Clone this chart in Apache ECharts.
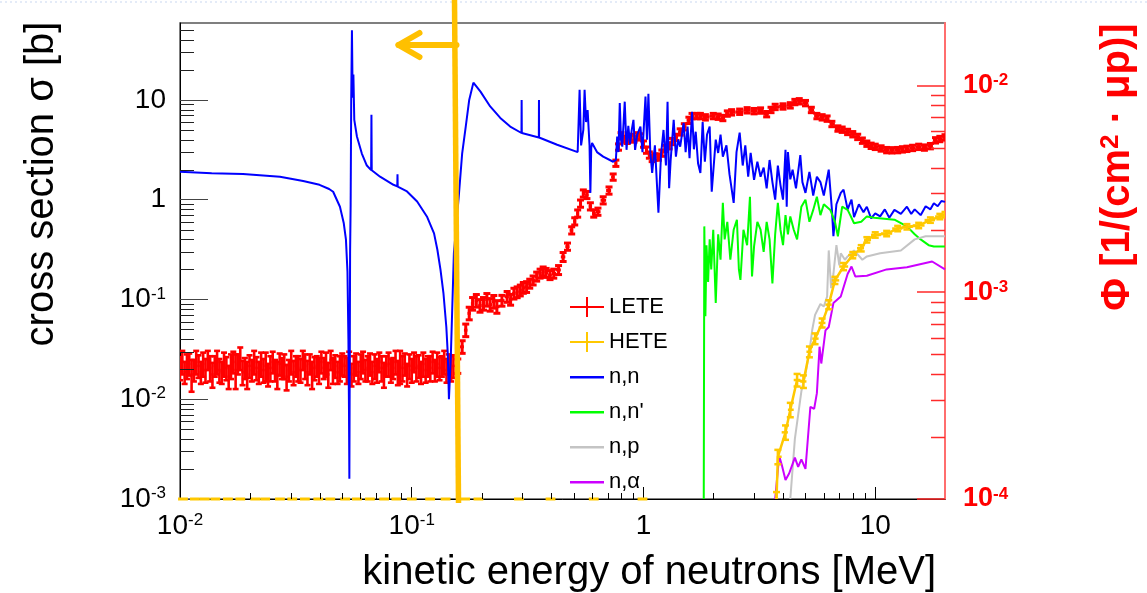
<!DOCTYPE html>
<html><head><meta charset="utf-8">
<script src="https://cdn.jsdelivr.net/npm/echarts@6/dist/echarts.min.js"></script>
<style>html,body{margin:0;padding:0;background:#fff}#c{width:1147px;height:593px}</style>
</head><body><div id="c"></div><script>
// ---------------- axis ranges ----------------
const X_MIN = 0.01, X_MAX = 20;         // kinetic energy [MeV]
const SIG_MIN = 0.001, SIG_MAX = 59;    // cross section [b]
const PHI_MIN = 1e-4, PHI_MAX = 0.02;   // flux
const MARK_E = 0.156;                   // energy of the orange marker line
const FLUX_UNIT = 1e-4;                 // unit of the low-energy LETE arrays

// ---------------- LETE (flux, right axis) ----------------
// low-energy part, energies in MeV; values and errors in units of 1e-4
const leteLowE = [0.010000,0.010233,0.010471,0.010715,0.010965,0.011220,0.011482,0.011749,0.012023,0.012303,
  0.012589,0.012882,0.013183,0.013490,0.013804,0.014125,0.014454,0.014791,0.015136,0.015488,
  0.015849,0.016218,0.016596,0.016982,0.017378,0.017783,0.018197,0.018621,0.019055,0.019498,
  0.019953,0.020417,0.020893,0.021380,0.021878,0.022387,0.022909,0.023442,0.023988,0.024547,
  0.025119,0.025704,0.026303,0.026915,0.027542,0.028184,0.028840,0.029512,0.030200,0.030903,
  0.031623,0.032359,0.033113,0.033884,0.034674,0.035481,0.036308,0.037154,0.038019,0.038905,
  0.039811,0.040738,0.041687,0.042658,0.043652,0.044668,0.045709,0.046774,0.047863,0.048978,
  0.050119,0.051286,0.052481,0.053703,0.054954,0.056234,0.057544,0.058884,0.060256,0.061660,
  0.063096,0.064565,0.066069,0.067608,0.069183,0.070795,0.072444,0.074131,0.075858,0.077625,
  0.079433,0.081283,0.083176,0.085114,0.087096,0.089125,0.091201,0.093325,0.095499,0.097724,
  0.10000,0.10233,0.10471,0.10715,0.10965,0.11220,0.11482,0.11749,0.12023,0.12303,
  0.12589,0.12882,0.13183,0.13490,0.13804,0.14125,0.14454,0.14791,0.15136];
const leteLowV = [4.3,4.6,4.1,4.4,4.5,4.0,4.2,4.6,4.4,4.1,
  4.5,4.2,4.7,4.3,4.0,4.4,4.6,4.2,4.1,4.5,
  4.3,3.9,4.4,4.6,4.2,4.5,4.8,4.1,4.3,4.0,
  4.4,4.2,4.6,4.3,4.1,4.5,4.2,4.4,4.0,4.3,
  4.6,4.2,4.0,4.5,4.3,4.4,3.9,4.2,4.6,4.1,
  4.4,4.3,4.2,4.7,4.4,4.1,4.5,4.0,4.3,4.4,
  4.2,4.6,4.3,4.5,4.0,4.7,4.2,4.4,4.1,4.3,
  4.5,4.4,4.2,4.6,4.0,4.3,4.5,4.1,4.4,4.6,
  4.2,4.3,4.5,4.1,4.4,4.2,4.6,4.3,4.0,4.4,
  4.5,4.2,4.3,4.6,4.1,4.4,4.3,4.5,4.0,4.4,
  4.2,4.6,4.3,4.4,4.1,4.5,4.2,4.4,4.3,4.6,
  4.2,4.5,4.3,4.4,4.6,4.2,4.5,4.3,4.4];
const leteLowErr = [0.55,0.6,0.5,0.6,0.55,0.7,0.5,0.6,0.55,0.5,
  0.6,0.55,0.5,0.6,0.55,0.5,0.6,0.55,0.5,0.6,
  0.55,0.5,0.6,0.55,0.8,0.5,0.6,0.55,0.5,0.6,
  0.55,0.5,0.6,0.55,0.5,0.6,0.55,0.7,0.5,0.6,
  0.55,0.5,0.6,0.55,0.5,0.6,0.55,0.5,0.6,0.55,
  0.5,0.6,0.55,0.5,0.6,0.55,0.5,0.6,0.55,0.5,
  0.6,0.55,0.5,0.6,0.55,0.5,0.6,0.55,0.5,0.6,
  0.55,0.5,0.6,0.55,0.5,0.6,0.55,0.5,0.6,0.55,
  0.5,0.6,0.55,0.5,0.6,0.55,0.5,0.6,0.55,0.5,
  0.6,0.55,0.5,0.6,0.55,0.8,0.6,0.55,0.5,0.6,
  0.55,0.5,0.6,0.55,0.5,0.6,0.55,0.5,0.6,0.55,
  0.5,0.6,0.55,0.5,0.6,0.55,0.5,0.6,0.55];
// [E, flux, relative error]
const leteHigh = [[0.158,4.4e-4,0.08],[0.165,5.44e-4,0.07],[0.171,6.55e-4,0.07],[0.177,7.9e-4,0.07],[0.183,8.8e-4,0.07],
  [0.190,9.1e-4,0.07],[0.197,8.6e-4,0.07],[0.204,8.8e-4,0.07],[0.211,9.2e-4,0.07],[0.218,8.7e-4,0.07],
  [0.226,9.0e-4,0.07],[0.233,8.5e-4,0.07],[0.245,9.1e-4,0.06],[0.258,9.5e-4,0.06],[0.267,9.2e-4,0.06],
  [0.276,9.85e-4,0.06],[0.285,1.0e-3,0.06],[0.294,1.02e-3,0.06],[0.303,1.05e-3,0.06],[0.313,1.06e-3,0.06],
  [0.323,1.10e-3,0.05],[0.334,1.14e-3,0.05],[0.346,1.19e-3,0.05],[0.358,1.23e-3,0.05],[0.369,1.26e-3,0.05],
  [0.380,1.24e-3,0.05],[0.395,1.21e-3,0.05],[0.410,1.23e-3,0.05],[0.430,1.28e-3,0.05],[0.450,1.48e-3,0.05],
  [0.470,1.66e-3,0.04],[0.490,1.99e-3,0.04],[0.505,2.2e-3,0.04],[0.520,2.4e-3,0.04],[0.535,2.68e-3,0.04],
  [0.550,3.0e-3,0.04],[0.570,2.95e-3,0.04],[0.590,2.6e-3,0.04],[0.610,2.4e-3,0.04],[0.636,2.45e-3,0.04],
  [0.670,2.78e-3,0.04],[0.710,3.1e-3,0.04],[0.740,3.6e-3,0.035],[0.760,4.2e-3,0.035],[0.780,5.03e-3,0.035],
  [0.800,5.7e-3,0.035],[0.825,5.5e-3,0.035],[0.850,5.42e-3,0.035],[0.880,5.6e-3,0.035],[0.910,5.5e-3,0.035],
  [0.940,5.7e-3,0.035],[0.970,5.63e-3,0.035],[1.000,5.2e-3,0.035],[1.030,4.86e-3,0.035],[1.060,4.6e-3,0.035],
  [1.090,4.43e-3,0.035],[1.120,4.5e-3,0.035],[1.160,4.5e-3,0.035],[1.200,4.7e-3,0.035],[1.240,4.95e-3,0.035],
  [1.290,5.1e-3,0.035],[1.330,5.35e-3,0.035],[1.380,5.6e-3,0.035],[1.440,5.95e-3,0.035],[1.500,6.3e-3,0.035],
  [1.570,6.77e-3,0.035],[1.620,7.1e-3,0.03],[1.700,7.1e-3,0.03],[1.760,7.1e-3,0.03],[1.850,7.0e-3,0.03],
  [2.000,7.1e-3,0.03],[2.100,7.05e-3,0.03],[2.200,6.95e-3,0.03],[2.300,7.3e-3,0.03],[2.400,7.4e-3,0.03],
  [2.600,7.45e-3,0.03],[2.800,7.57e-3,0.03],[3.000,7.5e-3,0.03],[3.200,7.55e-3,0.03],[3.400,7.25e-3,0.03],
  [3.550,7.6e-3,0.03],[3.700,7.86e-3,0.03],[4.000,7.9e-3,0.03],[4.300,8.0e-3,0.03],[4.500,8.3e-3,0.03],
  [4.700,8.37e-3,0.03],[5.000,8.2e-3,0.03],[5.300,7.6e-3,0.03],[5.600,7.1e-3,0.03],[5.900,7.0e-3,0.03],
  [6.200,6.9e-3,0.03],[6.500,6.5e-3,0.03],[6.900,6.18e-3,0.03],[7.200,6.1e-3,0.03],[7.600,5.95e-3,0.03],
  [8.000,5.8e-3,0.03],[8.400,5.63e-3,0.03],[8.800,5.4e-3,0.03],[9.200,5.22e-3,0.03],[9.600,5.1e-3,0.03],
  [10.0,5.04e-3,0.03],[10.6,4.95e-3,0.03],[11.2,4.86e-3,0.03],[11.8,4.85e-3,0.03],[12.5,4.86e-3,0.03],
  [13.1,4.9e-3,0.03],[13.7,4.93e-3,0.03],[14.5,4.98e-3,0.03],[15.4,5.04e-3,0.03],[16.3,5.0e-3,0.03],
  [17.3,5.08e-3,0.03],[18.2,5.42e-3,0.03],[19.0,5.5e-3,0.03],[20.0,5.6e-3,0.03]];

// ---------------- HETE (flux, right axis) ----------------
const hete = [[3.75,1.0e-4,0.08],[3.80,1.6e-4,0.08],[4.10,2.1e-4,0.08],[4.30,2.7e-4,0.08],[4.60,3.76e-4,0.07],
  [4.90,3.7e-4,0.07],[5.20,5.15e-4,0.06],[5.50,5.96e-4,0.06],[5.90,7.1e-4,0.05],[6.30,8.7e-4,0.05],
  [6.70,1.14e-3,0.04],[7.30,1.33e-3,0.04],[8.00,1.51e-3,0.035],[8.70,1.63e-3,0.035],[9.20,1.79e-3,0.03],
  [10.0,1.89e-3,0.03],[11.2,1.92e-3,0.03],[12.5,2.03e-3,0.03],[13.7,2.07e-3,0.03],[15.4,2.10e-3,0.03],
  [17.3,2.23e-3,0.03],[19.0,2.32e-3,0.03],[20.0,2.37e-3,0.03]];
// HETE bins that sit on the bottom of the flux axis (empty bins)
const heteFloorE = [0.0103,0.0116,0.0128,0.0142,0.0161,0.0182,0.0211,0.0233,0.0270,0.0305,0.0346,0.0395,
  0.0445,0.0516,0.0580,0.0660,0.0760,0.0858,0.1000,0.1200,0.1400,0.1700,0.1940,0.2900,0.3970,0.6100,0.9900];

// ---------------- cross sections (left axis) [E MeV, sigma b] ----------------
const nnData = [[0.0100,1.91],[0.0137,1.84],[0.0187,1.81],[0.0270,1.70],[0.0340,1.54],[0.0400,1.41],[0.0440,1.28],
  [0.0458,1.20],[0.0490,0.85],[0.0509,0.58],[0.0520,0.40],[0.0528,0.19],[0.0533,0.04],[0.0536,0.008],[0.0538,0.0016],
  [0.0540,0.02],[0.0542,0.3],[0.0545,0.9],[0.0548,10],[0.0552,50],[0.0556,10.5],[0.0560,18],[0.0565,6.3],[0.0580,4.3],
  [0.0609,2.9],[0.0640,2.2],[0.0668,1.98],[0.0670,7.1],[0.0672,1.97],[0.0730,1.70],[0.0834,1.41],[0.0866,1.36],
  [0.0868,1.8],[0.0870,1.35],[0.0954,1.21],[0.1055,0.96],[0.1166,0.67],[0.1248,0.46],[0.1290,0.315],[0.1330,0.20],
  [0.1370,0.116],[0.1410,0.053],[0.1430,0.029],[0.1447,0.0100],[0.1476,0.029],[0.1520,0.29],[0.1600,1.17],[0.1650,2.9],
  [0.1710,5.4],[0.1770,10],[0.1845,14.9],[0.1980,12.1],[0.2180,8.6],[0.2410,6.6],[0.2660,5.4],[0.2975,4.66],[0.2980,10],
  [0.2985,4.65],[0.3535,4.2],[0.3540,10],[0.3545,4.2],[0.4240,3.55],[0.5200,3.0],[0.5280,3.0],[0.5300,12.6],[0.5380,3.5],
  [0.5500,5.0],[0.5570,12.6],[0.5650,6],[0.5740,7.9],[0.5850,3.5],[0.5900,1.17],[0.5950,3.3],[0.6000,3.7],[0.6300,3.0],
  [0.6700,2.7],[0.7400,2.4],[0.7600,2.5],[0.7700,4.3],[0.7800,3.0],[0.7900,9.3],[0.8000,4.0],[0.8100,3.4],[0.8300,9.6],
  [0.8450,3.16],[0.8600,5.5],[0.8750,3.6],[0.8900,5.0],[0.9050,6.3],[0.9200,3.16],[0.9400,4.5],[0.9700,5.4],[0.9900,3.0],
  [1.0200,10.8],[1.0350,4.0],[1.0500,11.5],[1.0700,3.0],[1.0900,1.85],[1.1200,3.5],[1.1600,0.74],[1.1900,2.8],
  [1.2200,5.0],[1.2500,2.2],[1.2700,9.6],[1.2900,1.3],[1.3100,2.5],[1.3500,6.3],[1.3800,2.7],[1.4100,4.0],[1.4400,3.4],
  [1.4900,5.9],[1.5200,3.0],[1.5500,5.4],[1.5800,2.6],[1.6200,7.6],[1.6500,3.2],[1.6800,4.8],[1.7200,2.3],[1.7600,1.85],
  [1.8000,6.0],[1.8400,2.4],[1.8800,4.5],[1.9300,5.4],[1.9700,1.2],[2.0500,4.0],[2.1000,2.94],[2.1500,4.5],[2.2000,2.7],
  [2.2800,3.5],[2.3500,1.8],[2.4500,0.93],[2.5200,3.0],[2.6000,4.7],[2.6800,2.2],[2.7500,3.5],[2.8300,1.7],[2.9000,2.94],
  [3.0000,1.58],[3.1000,2.4],[3.2000,1.7],[3.3000,2.1],[3.4000,1.3],[3.5000,2.5],[3.6000,1.5],[3.7000,1.0],[3.8000,2.2],
  [3.9000,1.4],[4.0000,1.0],[4.1000,3.16],[4.1500,0.85],[4.2000,3.0],[4.3000,1.6],[4.4000,2.0],[4.5500,1.3],[4.7500,2.8],
  [4.8500,1.5],[5.0000,1.17],[5.2000,1.9],[5.4000,1.1],[5.6000,1.7],[5.8000,1.5],[6.0000,1.1],[6.3000,2.0],[6.5000,0.8],
  [6.6000,0.43],[6.8000,0.9],[7.1000,1.17],[7.3000,1.26],[7.6000,0.8],[7.9000,1.0],[8.1000,0.67],[8.5000,0.9],[8.9000,0.75],
  [9.2000,0.85],[9.6000,0.65],[10.000,0.73],[10.500,0.68],[11.000,0.8],[11.500,0.66],[12.100,0.79],[12.900,0.72],
  [13.700,0.85],[14.300,0.72],[14.800,0.80],[15.700,0.70],[16.500,0.86],[17.300,0.80],[17.900,0.92],[18.600,0.86],
  [19.300,0.97],[20.000,0.95]];
const nnpData = [[1.82,0.001],[1.83,0.54],[1.85,0.068],[1.87,0.35],[1.90,0.15],[1.93,0.4],[1.96,0.2],[2.00,0.5],[2.05,0.092],
  [2.10,0.45],[2.15,0.25],[2.20,0.93],[2.24,0.4],[2.30,0.6],[2.37,0.25],[2.45,0.5],[2.53,0.63],[2.58,0.2],[2.62,0.157],
  [2.70,0.5],[2.80,0.35],[2.88,1.07],[2.94,0.17],[3.00,0.34],[3.10,0.6],[3.20,0.5],[3.30,0.3],[3.40,0.6],[3.50,0.4],
  [3.60,0.145],[3.70,0.45],[3.80,0.93],[3.90,0.5],[4.00,0.35],[4.10,0.7],[4.20,0.45],[4.30,0.68],[4.45,0.5],[4.60,0.4],
  [4.80,0.85],[5.00,1.0],[5.20,0.6],[5.40,0.79],[5.60,1.07],[5.80,0.7],[6.00,0.9],[6.40,0.79],[6.70,0.6],[6.90,0.43],
  [7.20,0.85],[7.60,0.79],[7.80,0.7],[8.10,0.58],[8.70,0.6],[9.20,0.68],[9.90,0.66],[12.1,0.63],[13.7,0.54],[14.8,0.45],
  [15.7,0.4],[17.0,0.35],[17.9,0.34],[20.0,0.34]];
const npData = [[4.30,0.001],[4.50,0.004],[4.80,0.012],[5.00,0.018],[5.20,0.03],[5.35,0.05],[5.50,0.07],[5.80,0.09],
  [6.00,0.085],[6.20,0.107],[6.30,0.31],[6.45,0.13],[6.60,0.18],[6.80,0.35],[7.00,0.22],[7.10,0.29],[7.40,0.25],
  [7.60,0.27],[8.10,0.31],[8.80,0.25],[9.20,0.27],[10.5,0.29],[12.9,0.31],[14.8,0.4],[16.5,0.43],[20.0,0.43]];
const naData = [[3.70,0.001],[3.85,0.0027],[3.95,0.0022],[4.10,0.00155],[4.25,0.0018],[4.50,0.0026],[4.65,0.0021],
  [4.80,0.0025],[5.00,0.0020],[5.10,0.0020],[5.25,0.0084],[5.45,0.0080],[5.60,0.0115],[5.75,0.0336],[5.85,0.0228],
  [6.10,0.049],[6.30,0.053],[6.60,0.092],[7.10,0.107],[7.60,0.18],[7.90,0.214],[8.20,0.17],[9.20,0.173],[11.2,0.20],
  [13.7,0.21],[17.6,0.24],[20.0,0.20]];

// ---------------- tick values ----------------
const minorMult = [2,3,4,5,6,7,8,9];
const xDecades = [-2,-1,0,1];
const sigDecades = [-3,-2,-1,0,1];
const phiDecades = [-4,-3,-2];

// ---------------- colours ----------------
const C_LETE = '#ff0000', C_HETE = '#ffc800', C_NN = '#0000ff', C_NNP = '#00ff00', C_NP = '#c4c4c4', C_NA = '#cc00ff';
const FONT = '"Liberation Sans", Arial, Helvetica, sans-serif';
const ICON_CROSS = 'path://M0,9h34v2h-34z M16,0h2v20h-2z';
const ICON_LINE = 'path://M0,0h0.01v0.01h-0.01z M0,9h34v2.5h-34z M33.99,19.99h0.01v0.01h-0.01z';

// ---------------- helpers ----------------
function withBins(pts) {
  return pts.map((p, i) => {
    const prev = i > 0 ? pts[i-1][0] : p[0] * p[0] / pts[i+1][0];
    const next = i < pts.length - 1 ? pts[i+1][0] : p[0] * p[0] / pts[i-1][0];
    return [p[0], p[1], p[2], Math.sqrt(prev * p[0]), Math.sqrt(p[0] * next)];
  });
}
const leteAll = leteLowE.map((e, i) => [e, leteLowV[i] * FLUX_UNIT, leteLowErr[i] * FLUX_UNIT])
  .concat(leteHigh.map(p => [p[0], p[1], p[1] * p[2]]));
const leteBins = withBins(leteAll);
const leteBinsLow = leteBins.slice(0, leteLowE.length);
const leteBinsHigh = leteBins.slice(leteLowE.length);
const heteBins = withBins(hete.map(p => [p[0], p[1], p[1] * p[2]]));
const floorBins = heteFloorE.map(e => [e, PHI_MIN, e / 1.05, e * 1.05]);

function errRender(color, lw, cap) {
  return function (params, api) {
    const E = api.value(0), V = api.value(1), err = api.value(2), lo = api.value(3), hi = api.value(4);
    const c = api.coord([E, V]);
    const t = api.coord([E, V + err]);
    const b = api.coord([E, Math.max(V - err, V * 0.2)]);
    const l = api.coord([lo, V]);
    const r = api.coord([hi, V]);
    const st = { stroke: color, lineWidth: lw };
    return { type: 'group', children: [
      { type: 'line', shape: { x1: l[0], y1: c[1], x2: r[0], y2: c[1] }, style: st },
      { type: 'line', shape: { x1: c[0], y1: t[1], x2: c[0], y2: b[1] }, style: st },
      { type: 'line', shape: { x1: c[0] - cap, y1: t[1], x2: c[0] + cap, y2: t[1] }, style: st },
      { type: 'line', shape: { x1: c[0] - cap, y1: b[1], x2: c[0] + cap, y2: b[1] }, style: st }
    ]};
  };
}

function supLabel(v) {
  const lg = Math.log10(v), e = Math.round(lg);
  if (Math.abs(lg - e) > 1e-6) return '';
  if (e === 0) return '{b|1}';
  if (e === 1) return '{b|10}';
  return '{b|10}{s|' + e + '}';
}

const chart = echarts.init(document.getElementById('c'), null, { renderer: 'canvas' });
const option = {
  animation: false,
  backgroundColor: '#ffffff',
  textStyle: { fontFamily: FONT },
  grid: { left: 180, right: 202, top: 23, bottom: 94, show: true, borderColor: '#555', borderWidth: 1.5, backgroundColor: 'transparent' },
  legend: {
    orient: 'vertical', left: 565, top: 291, itemWidth: 34, itemHeight: 20, itemGap: 13,
    selectedMode: false,
    textStyle: { fontSize: 22, color: '#000', fontFamily: FONT },
    data: [
      { name: 'LETE', icon: ICON_CROSS, itemStyle: { color: C_LETE } },
      { name: 'HETE', icon: ICON_CROSS, itemStyle: { color: C_HETE } },
      { name: 'n,n', icon: ICON_LINE, itemStyle: { color: C_NN } },
      { name: "n,n'", icon: ICON_LINE, itemStyle: { color: C_NNP } },
      { name: 'n,p', icon: ICON_LINE, itemStyle: { color: C_NP } },
      { name: 'n,α', icon: ICON_LINE, itemStyle: { color: C_NA } }
    ]
  },
  xAxis: {
    type: 'log', logBase: 10, min: X_MIN, max: X_MAX,
    axisLine: { onZero: false, lineStyle: { color: '#000', width: 1 } },
    axisTick: { inside: true, length: 12, lineStyle: { color: '#000', width: 1 } },
    splitLine: { show: false },
    axisLabel: {
      formatter: supLabel, margin: 13, color: '#000', showMaxLabel: false,
      rich: { b: { fontSize: 28, fontFamily: FONT, color: '#000' },
              s: { fontSize: 17, fontFamily: FONT, color: '#000', verticalAlign: 'top' } }
    }
  },
  yAxis: [{
    type: 'log', logBase: 10, min: SIG_MIN, max: SIG_MAX, position: 'left',
    axisLine: { show: true, onZero: false, lineStyle: { color: '#000', width: 1 } },
    axisTick: { inside: true, length: 28, lineStyle: { color: '#444', width: 1 } },
    splitLine: { show: false },
    axisLabel: {
      formatter: supLabel, margin: 14, color: '#000', showMaxLabel: false,
      rich: { b: { fontSize: 28, fontFamily: FONT, color: '#000' },
              s: { fontSize: 17, fontFamily: FONT, color: '#000', verticalAlign: 'top' } }
    }
  }, {
    type: 'log', logBase: 10, min: PHI_MIN, max: PHI_MAX, position: 'right',
    axisLine: { show: true, onZero: false, lineStyle: { color: '#ff6e6e', width: 2 } },
    axisTick: { inside: true, length: 28, lineStyle: { color: '#ff2a2a', width: 1.5 } },
    splitLine: { show: false },
    axisLabel: {
      formatter: supLabel, margin: 18, color: '#ff0000', showMaxLabel: false,
      rich: { b: { fontSize: 27, fontWeight: 'bold', fontFamily: FONT, color: '#ff0000' },
              s: { fontSize: 17, fontWeight: 'bold', fontFamily: FONT, color: '#ff0000', verticalAlign: 'top' } }
    }
  }],
  series: [
    // minor ticks on x and left y
    { type: 'custom', silent: true, xAxisIndex: 0, yAxisIndex: 0, data: [[0.1, 0.1]], z: 10,
      renderItem: function (params, api) {
        const ch = [];
        const o = api.coord([X_MIN, SIG_MIN]);
        xDecades.forEach(d => minorMult.forEach(m => {
          const v = m * Math.pow(10, d); if (v >= X_MAX) return;
          const x = Math.round(api.coord([v, SIG_MIN])[0]) + 0.5;
          ch.push({ type: 'line', shape: { x1: x, y1: o[1], x2: x, y2: o[1] - 6 }, style: { stroke: '#000', lineWidth: 1 } });
        }));
        sigDecades.forEach(d => minorMult.forEach(m => {
          const v = m * Math.pow(10, d); if (v >= SIG_MAX) return;
          const y = Math.round(api.coord([X_MIN, v])[1]) + 0.5;
          ch.push({ type: 'line', shape: { x1: o[0], y1: y, x2: o[0] + 14, y2: y }, style: { stroke: '#222', lineWidth: 1 } });
        }));
        return { type: 'group', children: ch };
      } },
    // minor ticks on right y
    { type: 'custom', silent: true, xAxisIndex: 0, yAxisIndex: 1, data: [[0.1, 0.001]], z: 10,
      renderItem: function (params, api) {
        const ch = [];
        const xr = api.coord([X_MAX, PHI_MIN])[0];
        phiDecades.forEach(d => minorMult.forEach(m => {
          const v = m * Math.pow(10, d); if (v >= PHI_MAX) return;
          const y = Math.round(api.coord([X_MAX, v])[1]) + 0.5;
          ch.push({ type: 'line', shape: { x1: xr, y1: y, x2: xr - 14, y2: y }, style: { stroke: '#ff2a2a', lineWidth: 1.5 } });
        }));
        return { type: 'group', children: ch };
      } },
    { name: 'LETE', type: 'custom', xAxisIndex: 0, yAxisIndex: 1, z: 2, clip: true,
      itemStyle: { color: C_LETE }, data: leteBinsLow, renderItem: errRender(C_LETE, 2.6, 3) },
    { name: 'LETE', type: 'custom', xAxisIndex: 0, yAxisIndex: 1, z: 2, clip: true,
      itemStyle: { color: C_LETE }, data: leteBinsHigh, renderItem: errRender(C_LETE, 3, 3.5) },
    { name: 'n,n', type: 'line', yAxisIndex: 0, data: nnData, symbol: 'none', z: 3,
      lineStyle: { color: C_NN, width: 2 }, itemStyle: { color: C_NN } },
    { name: "n,n'", type: 'line', yAxisIndex: 0, data: nnpData, symbol: 'none', z: 3,
      lineStyle: { color: C_NNP, width: 2 }, itemStyle: { color: C_NNP } },
    { name: 'n,p', type: 'line', yAxisIndex: 0, data: npData, symbol: 'none', z: 3,
      lineStyle: { color: C_NP, width: 2 }, itemStyle: { color: C_NP } },
    { name: 'n,α', type: 'line', yAxisIndex: 0, data: naData, symbol: 'none', z: 3,
      lineStyle: { color: C_NA, width: 2 }, itemStyle: { color: C_NA } },
    { name: 'HETE', type: 'line', yAxisIndex: 1, data: hete.map(p => [p[0], p[1]]), symbol: 'none', z: 4,
      lineStyle: { color: C_HETE, width: 2.5 }, itemStyle: { color: C_HETE } },
    { name: 'HETE', type: 'custom', xAxisIndex: 0, yAxisIndex: 1, z: 4, clip: true,
      itemStyle: { color: C_HETE }, data: heteBins, renderItem: errRender(C_HETE, 2.5, 3.5) },
    { type: 'custom', silent: true, xAxisIndex: 0, yAxisIndex: 1, z: 4, data: floorBins,
      renderItem: function (params, api) {
        const l = api.coord([api.value(2), api.value(1)]);
        const r = api.coord([api.value(3), api.value(1)]);
        return { type: 'line', shape: { x1: l[0], y1: l[1], x2: r[0], y2: r[1] }, style: { stroke: C_HETE, lineWidth: 3 } };
      } }
  ]
};
chart.setOption(option);

// annotation + titles
const mx = chart.convertToPixel({ xAxisIndex: 0 }, MARK_E);
const yBot = chart.convertToPixel({ yAxisIndex: 0 }, SIG_MIN);
const ORANGE = '#ffc000';
chart.setOption({
  graphic: [
    { type: 'line', silent: true, z: 100, shape: { x1: 0, y1: 2, x2: 1147, y2: 2 }, style: { stroke: '#c9d7f0', lineWidth: 1, lineDash: [2, 3] } },
    { type: 'text', silent: true, z: 100, x: 42, y: 184, rotation: Math.PI / 2,
      style: { text: 'cross section σ [b]', font: '40px ' + FONT, fill: '#000', textAlign: 'center', textVerticalAlign: 'middle' } },
    { type: 'text', silent: true, z: 100, x: 936, y: 573,
      style: { text: 'kinetic energy of neutrons [MeV]', font: '40px ' + FONT, fill: '#000', textAlign: 'right', textVerticalAlign: 'middle' } },
    { type: 'text', silent: true, z: 100, x: 1118, y: 167, rotation: Math.PI / 2,
      style: { text: '{a|Φ [1/(cm}{s|2}{a| · μp)]}', textAlign: 'center', textVerticalAlign: 'middle', fill: '#ff0000',
        rich: { a: { fontSize: 40, fontWeight: 'bold', fontFamily: FONT, fill: '#ff0000' },
                s: { fontSize: 26, fontWeight: 'bold', fontFamily: FONT, fill: '#ff0000', verticalAlign: 'top' } } } },
    { type: 'line', silent: true, z: 200, shape: { x1: mx - 2, y1: 0, x2: mx + 2, y2: yBot + 4 },
      style: { stroke: ORANGE, lineWidth: 5.5 } },
    { type: 'polyline', silent: true, z: 200, shape: { points: [[mx, 45], [mx - 58, 45]] },
      style: { stroke: ORANGE, lineWidth: 6, lineCap: 'round', fill: null } },
    { type: 'polyline', silent: true, z: 200, shape: { points: [[mx - 37, 33], [mx - 58, 45], [mx - 37, 57]] },
      style: { stroke: ORANGE, lineWidth: 6, lineCap: 'round', lineJoin: 'round', fill: null } }
  ]
});
</script></body></html>
